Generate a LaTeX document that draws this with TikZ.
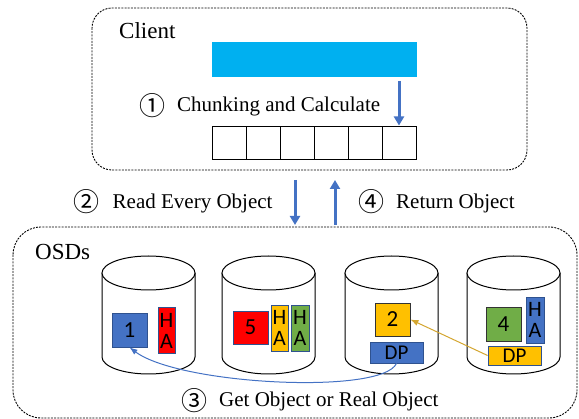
\documentclass[tikz,border=0pt]{standalone}
\usepackage{fontspec}
\setmainfont{Liberation Serif}
\newfontfamily\circfont{Noto Sans CJK SC}
\newfontfamily\boxfont{Carlito}
\usetikzlibrary{arrows.meta}
\definecolor{cyanbar}{HTML}{00B0F0}
\definecolor{ablue}{HTML}{4472C4}
\definecolor{edgeblue}{HTML}{2F528F}
\definecolor{ored}{HTML}{FF0000}
\definecolor{oorange}{HTML}{FFC000}
\definecolor{ogreen}{HTML}{70AD47}
\definecolor{gold}{RGB}{212,166,48}
\tikzset{
  groupbox/.style={draw=black, line width=0.9pt, dash pattern=on 2pt off 1.2pt, rounded corners=#1},
  cell/.style={draw=black, line width=1pt, minimum width=34pt, minimum height=33pt, inner sep=0pt},
  cyl/.style={draw=black, line width=1pt, fill=white},
  obj/.style={draw=edgeblue, line width=0.8pt, minimum width=35pt, minimum height=34pt, inner sep=0pt,
    font=\boxfont\fontsize{23}{23}\selectfont},
  ha/.style={draw=edgeblue, line width=0.8pt, minimum width=17pt, minimum height=46pt, inner sep=0pt,
    align=center, font=\boxfont\fontsize{22}{21}\selectfont},
  dp/.style={draw=edgeblue, line width=0.8pt, minimum width=53pt, minimum height=20pt, inner sep=0pt,
    font=\boxfont\fontsize{21}{21}\selectfont},
  lbl/.style={anchor=base west, inner sep=0pt, font=\fontsize{21}{24}\selectfont},
  title/.style={anchor=base west, inner sep=0pt, font=\fontsize{23}{26}\selectfont},
  circ/.style={inner sep=0pt, font=\circfont\fontsize{26}{26}\selectfont},
  bigarrow/.style={draw=ablue, line width=3pt, -{Triangle[length=9pt,width=10pt]}},
}
\begin{document}
\begin{tikzpicture}[x=1pt,y=-1pt]
\useasboundingbox (0,0) rectangle (579,419);
% group boxes
\draw[groupbox=20pt] (92,8) rectangle (527,170);
\draw[groupbox=28pt] (13,227) rectangle (577,418);
\node[title] (client) at (119,39) {Client};
\node[title] (osds) at (35,260) {OSDs};
% client content
\node[fill=cyanbar, minimum width=205pt, minimum height=35pt, inner sep=0pt] (bar) at (314.5,59.5) {};
\foreach \i in {1,...,6}{
  \node[cell] (c\i) at ({212+34*(\i-0.5)},143.5) {};
}
\coordinate (barout) at (399,81);
\draw[bigarrow, shorten >=1pt] (barout) -- (c6.north);
\node[circ] (n1) at (152,106) {①};
\node[lbl] (t1) at (177,112) {Chunking and Calculate};
% middle arrows
\coordinate (dtop) at (295,180);
\coordinate (dbot) at (295,225);
\coordinate (utop) at (335,180);
\coordinate (ubot) at (335,225);
\draw[bigarrow] (dtop) -- (dbot);
\draw[bigarrow] (ubot) -- (utop);
\node[circ] (n2) at (86,202) {②};
\node[lbl] (t2) at (112.5,208.5) {Read Every Object};
\node[circ] (n4) at (371,202) {④};
\node[lbl] (t4) at (396,208.5) {Return Object};
% cylinders
\foreach \cx in {148.5,268.5,391.5,513.5}{
  \draw[cyl] (\cx-46.5,273) -- (\cx-46.5,357) arc[start angle=180,end angle=360,x radius=46.5pt,y radius=17pt] -- (\cx+46.5,273);
  \draw[cyl] (\cx,273) ellipse[x radius=46.5pt,y radius=17pt];
}
% objects
\node[obj, fill=ablue] (o1) at (129.5,330) {1};
\node[ha, fill=ored] (ha1) at (166.5,330.5) {H\\A};
\node[obj, fill=ored, minimum height=33pt] (o5) at (250.5,327.5) {5};
\node[ha, fill=oorange] (ha5a) at (279.5,328) {H\\A};
\node[ha, fill=ogreen, minimum width=18pt] (ha5b) at (300,328) {H\\A};
\node[obj, fill=oorange, draw=black!80, minimum height=33pt] (o2) at (392.5,319.5) {2};
\node[dp, fill=ablue, minimum height=21pt] (dp2) at (396.5,352.5) {DP};
\node[obj, fill=ogreen, draw=black!80] (o4) at (503.5,324) {4};
\node[ha, fill=ablue, minimum width=18pt] (ha4) at (535,320) {H\\A};
\node[dp, fill=oorange, minimum height=19pt] (dp4) at (514.5,355.5) {DP};
% connectors
\draw[draw=ablue, line width=1pt, -{Latex[length=8pt,width=6pt]}]
  (dp2.south) .. controls (382,395) and (180,385) .. (o1.south);
\draw[draw=gold, line width=1pt, -{Latex[length=8pt,width=6pt]}] (dp4.west) -- (o2.east);
\node[circ] (n3) at (194.5,401) {③};
\node[lbl] (t3) at (219,407) {Get Object or Real Object};
\end{tikzpicture}
\end{document}
